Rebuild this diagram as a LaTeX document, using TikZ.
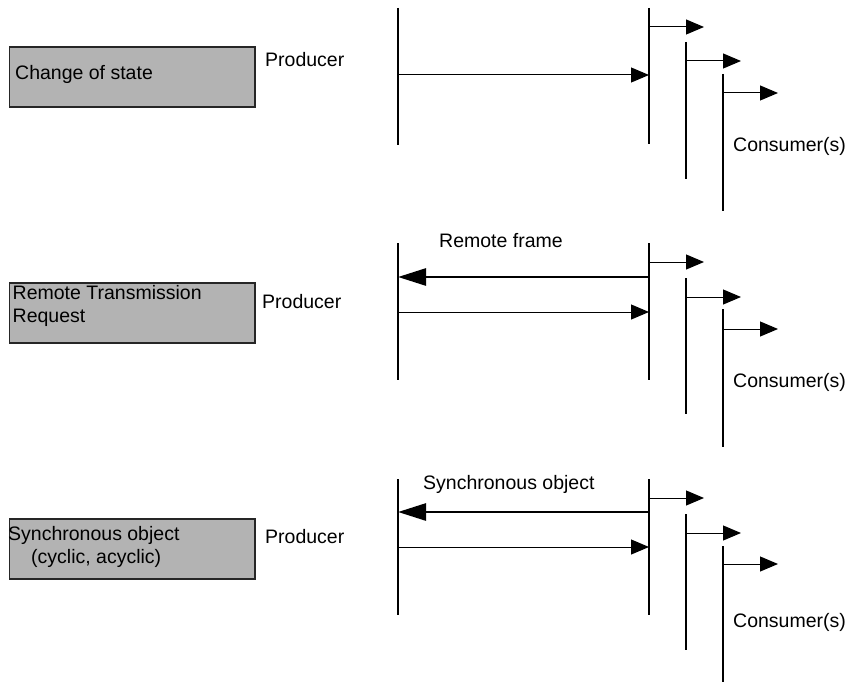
\documentclass[tikz,border=0pt]{standalone}
\usepackage{fontspec}
\setmainfont{Liberation Sans}
\usetikzlibrary{arrows.meta}
\definecolor{boxgray}{HTML}{B3B3B3}
\begin{document}
\begin{tikzpicture}[x=1pt,y=-1pt,
  lbl/.style={font=\fontsize{19.5}{23}\selectfont, inner sep=0pt, anchor=base west},
  box/.style={draw=black!85, line width=1.8pt, fill=boxgray, inner sep=0pt,
              minimum width=245.5pt, minimum height=60pt, anchor=north west},
  life/.style={line width=1.5pt},
  msg/.style={line width=1pt, -{Triangle[length=18pt,width=15pt]}},
  bigmsg/.style={line width=2.7pt, -{Triangle[length=28pt,width=17pt]}}]
\useasboundingbox (0,0) rectangle (856,682);

% ---------------- Section 1: Change of state
\node[box] (b1) at (8.5,46) {};
\node[lbl] (t1) at (15,80) {Change of state};
\node[lbl] (pr1) at (265,67) {Producer};
\node[lbl] (cs1) at (733,151) {Consumer(s)};
\coordinate (p1t) at (398,8);   \coordinate (p1b) at (398,145);
\coordinate (c11t) at (649,8);  \coordinate (c11b) at (649,144);
\coordinate (c12t) at (686,42); \coordinate (c12b) at (686,179);
\coordinate (c13t) at (723,74); \coordinate (c13b) at (723,211);
\draw[life] (p1t) -- (p1b);
\draw[life] (c11t) -- (c11b);
\draw[life] (c12t) -- (c12b);
\draw[life] (c13t) -- (c13b);
\coordinate (p1m) at (398,75);  \coordinate (c11m) at (649,75);
\draw[msg] (p1m) -- (c11m);
\coordinate (c11o) at (649,27); \coordinate (e11) at (704,27);
\coordinate (c12o) at (686,61); \coordinate (e12) at (741,61);
\coordinate (c13o) at (723,93); \coordinate (e13) at (778,93);
\draw[msg] (c11o) -- (e11);
\draw[msg] (c12o) -- (e12);
\draw[msg] (c13o) -- (e13);

% ---------------- Section 2: Remote Transmission Request
\node[box] (b2) at (8.5,282) {};
\node[lbl] (t2a) at (12.5,299) {Remote Transmission};
\node[lbl] (t2b) at (12.5,322) {Request};
\node[lbl] (pr2) at (262,308) {Producer};
\node[lbl] (rf) at (439,247) {Remote frame};
\node[lbl] (cs2) at (733,387) {Consumer(s)};
\coordinate (p2t) at (398,243);  \coordinate (p2b) at (398,380);
\coordinate (c21t) at (649,243); \coordinate (c21b) at (649,380);
\coordinate (c22t) at (686,278); \coordinate (c22b) at (686,414);
\coordinate (c23t) at (723,309); \coordinate (c23b) at (723,447);
\draw[life] (p2t) -- (p2b);
\draw[life] (c21t) -- (c21b);
\draw[life] (c22t) -- (c22b);
\draw[life] (c23t) -- (c23b);
\coordinate (c21r) at (649,277); \coordinate (p2r) at (398,277);
\draw[bigmsg] (c21r) -- (p2r);
\coordinate (p2m) at (398,312);  \coordinate (c21m) at (649,312);
\draw[msg] (p2m) -- (c21m);
\coordinate (c21o) at (649,262); \coordinate (e21) at (704,262);
\coordinate (c22o) at (686,297); \coordinate (e22) at (741,297);
\coordinate (c23o) at (723,329); \coordinate (e23) at (778,329);
\draw[msg] (c21o) -- (e21);
\draw[msg] (c22o) -- (e22);
\draw[msg] (c23o) -- (e23);

% ---------------- Section 3: Synchronous object
\node[box] (b3) at (8.5,518) {};
\node[lbl] (t3a) at (8,540) {Synchronous object};
\node[lbl] (t3b) at (31,563) {(cyclic, acyclic)};
\node[lbl] (pr3) at (265,543) {Producer};
\node[lbl] (so) at (423,489) {Synchronous object};
\node[lbl] (cs3) at (733,627) {Consumer(s)};
\coordinate (p3t) at (398,479);  \coordinate (p3b) at (398,615);
\coordinate (c31t) at (649,479); \coordinate (c31b) at (649,615);
\coordinate (c32t) at (686,514); \coordinate (c32b) at (686,650);
\coordinate (c33t) at (723,546); \coordinate (c33b) at (723,682);
\draw[life] (p3t) -- (p3b);
\draw[life] (c31t) -- (c31b);
\draw[life] (c32t) -- (c32b);
\draw[life] (c33t) -- (c33b);
\coordinate (c31r) at (649,512); \coordinate (p3r) at (398,512);
\draw[bigmsg] (c31r) -- (p3r);
\coordinate (p3m) at (398,547);  \coordinate (c31m) at (649,547);
\draw[msg] (p3m) -- (c31m);
\coordinate (c31o) at (649,498); \coordinate (e31) at (704,498);
\coordinate (c32o) at (686,533); \coordinate (e32) at (741,533);
\coordinate (c33o) at (723,564); \coordinate (e33) at (778,564);
\draw[msg] (c31o) -- (e31);
\draw[msg] (c32o) -- (e32);
\draw[msg] (c33o) -- (e33);
\end{tikzpicture}
\end{document}
